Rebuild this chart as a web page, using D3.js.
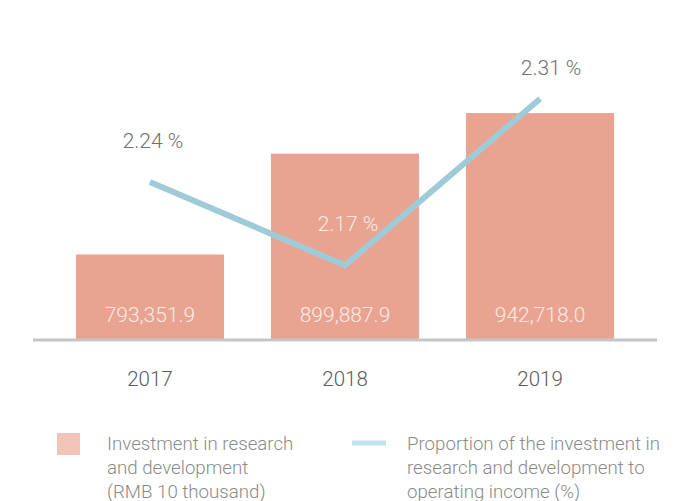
<!DOCTYPE html>
<html>
<head>
<meta charset="utf-8">
<script src="https://cdn.jsdelivr.net/npm/d3@7"></script>
<style>
  html, body { margin: 0; padding: 0; background: #fff; }
  svg text { font-family: Roboto, "Helvetica Neue", Arial, sans-serif; font-weight: 300; }
</style>
</head>
<body>
<div id="chart"></div>
<script>
// 数据
const years = ["2017", "2018", "2019"];
const investment = [793351.9, 899887.9, 942718.0];
const proportion = [2.24, 2.17, 2.31];
const legendBar = ["Investment in research", "and development", "(RMB 10 thousand)"];
const legendLine = ["Proportion of the investment in", "research and development to", "operating income (%)"];

const width = 684, height = 501;
const baseY = 340;

const svg = d3.select("#chart").append("svg")
  .attr("width", width)
  .attr("height", height);

// 比例尺
const x = d3.scaleBand()
  .domain(years)
  .range([33, 657])
  .paddingInner(0.241)
  .paddingOuter(0.22);

const yBar = d3.scaleLinear()
  .domain([703000, 1062200])
  .range([baseY, 0]);

const yLine = d3.scaleLinear()
  .domain([2.1072, 2.393])
  .range([baseY, 0]);

// 柱子
svg.selectAll(".bar")
  .data(years)
  .enter().append("rect")
  .attr("class", "bar")
  .attr("x", d => x(d))
  .attr("y", (d, i) => yBar(investment[i]))
  .attr("width", x.bandwidth())
  .attr("height", (d, i) => baseY - yBar(investment[i]))
  .style("fill", "#e8a490");

// 柱内数值
svg.selectAll(".bar-label")
  .data(years)
  .enter().append("text")
  .attr("class", "bar-label")
  .attr("x", d => x(d) + x.bandwidth() / 2)
  .attr("y", 322)
  .attr("text-anchor", "middle")
  .style("font-size", "21px")
  .style("fill", "#fbeae4")
  .text((d, i) => d3.format(",.1f")(investment[i]));

// 横轴
const xAxis = svg.append("g")
  .attr("transform", `translate(0,${baseY})`)
  .call(d3.axisBottom(x).tickSize(0).tickPadding(31));
xAxis.select(".domain").attr("d", "M33,0H657").style("stroke", "#c6c6c6").style("stroke-width", 3);
xAxis.selectAll(".tick text")
  .style("font-size", "20.5px")
  .style("fill", "#5a5a5a")
  .style("font-family", "Roboto, 'Helvetica Neue', Arial, sans-serif")
  .style("font-weight", 300);

// 折线
const pts = years.map((d, i) => [x(d) + x.bandwidth() / 2, yLine(proportion[i])]);
svg.append("path")
  .datum(pts)
  .attr("d", d3.line())
  .style("fill", "none")
  .style("stroke", "#9fcbd8")
  .style("stroke-width", 6);

// 折线标签
svg.selectAll(".pct-label")
  .data(pts)
  .enter().append("text")
  .attr("class", "pct-label")
  .attr("x", (d, i) => d[0] + (i === pts.length - 1 ? 11 : 3))
  .attr("y", (d, i) => d[1] + (i === pts.length - 1 ? -24 : -34))
  .attr("text-anchor", "middle")
  .style("font-size", "21px")
  .style("fill", (d, i) => d[1] - 34 > yBar(investment[i]) ? "#fbeae4" : "#707070")
  .text((d, i) => proportion[i].toFixed(2) + " %");

// 图例
const legend = svg.append("g");
legend.append("rect")
  .attr("x", 57).attr("y", 433)
  .attr("width", 23).attr("height", 22)
  .style("fill", "#f3c5b8");
legend.append("text")
  .attr("x", 107).attr("y", 450)
  .style("font-size", "18.7px")
  .style("fill", "#8a8a8a")
  .selectAll("tspan")
  .data(legendBar)
  .enter().append("tspan")
  .attr("x", 107)
  .attr("dy", (d, i) => i === 0 ? 0 : 24)
  .text(d => d);

legend.append("line")
  .attr("x1", 352).attr("x2", 386)
  .attr("y1", 443).attr("y2", 443)
  .style("stroke", "#c3e1e9")
  .style("stroke-width", 5);
legend.append("text")
  .attr("x", 407).attr("y", 450)
  .style("font-size", "18.7px")
  .style("fill", "#8a8a8a")
  .selectAll("tspan")
  .data(legendLine)
  .enter().append("tspan")
  .attr("x", 407)
  .attr("dy", (d, i) => i === 0 ? 0 : 24)
  .text(d => d);
</script>
</body>
</html>
